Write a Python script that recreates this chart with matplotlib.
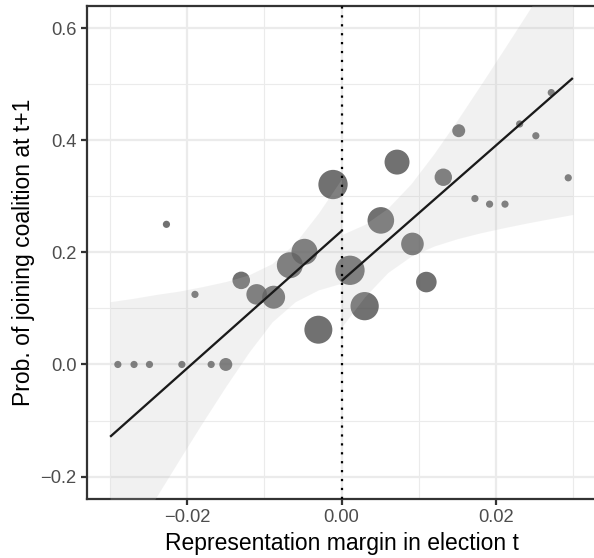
import numpy as np
import matplotlib
matplotlib.use("Agg")
import matplotlib.pyplot as plt
from matplotlib.ticker import FixedLocator, FuncFormatter

# ---- data ----
bin_x = [-0.0290, -0.0269, -0.0249, -0.0227, -0.0207, -0.0190, -0.0169, -0.0150,
         -0.0130, -0.0110, -0.0088, -0.0067, -0.0048, -0.0030, -0.0011,
         0.0011, 0.0030, 0.0051, 0.0072, 0.0092, 0.0110, 0.0132, 0.0152,
         0.0173, 0.0192, 0.0212, 0.0231, 0.0252, 0.0272, 0.0294]
bin_y = [0.0, 0.0, 0.0, 0.25, 0.0, 0.125, 0.0, 0.0,
         0.15, 0.125, 0.12, 0.177, 0.201, 0.062, 0.321,
         0.168, 0.104, 0.257, 0.361, 0.215, 0.147, 0.334, 0.417,
         0.296, 0.286, 0.286, 0.429, 0.408, 0.485, 0.333]
n_obs = [13, 13, 13, 13, 13, 13, 13, 42,
         77, 106, 132, 169, 169, 196, 215,
         215, 200, 177, 156, 128, 106, 76, 42,
         13, 13, 13, 13, 13, 13, 13]

# fitted lines (left / right of cutoff)
fit_left_x = [-0.030, 0.000]
fit_left_y = [-0.129, 0.238]
fit_right_x = [0.000, 0.030]
fit_right_y = [0.149, 0.511]

# confidence bands
band_left_x = [-0.030, -0.027, -0.024, -0.021, -0.018, -0.015, -0.012, -0.009, -0.006, -0.003, 0.000]
band_left_lo = [-0.370, -0.303, -0.236, -0.169, -0.103, -0.039, 0.022, 0.076, 0.112, 0.133, 0.145]
band_left_hi = [0.112, 0.118, 0.125, 0.131, 0.139, 0.148, 0.160, 0.180, 0.217, 0.270, 0.331]
band_right_x = [0.000, 0.003, 0.006, 0.009, 0.012, 0.015, 0.018, 0.021, 0.024, 0.027, 0.030]
band_right_lo = [0.0665, 0.1206, 0.1640, 0.1930, 0.2113, 0.2243, 0.2348, 0.2438, 0.2522, 0.2600, 0.2676]
band_right_hi = [0.2315, 0.2498, 0.2788, 0.3222, 0.3763, 0.4357, 0.4978, 0.5612, 0.6252, 0.6898, 0.7546]

x_major = [-0.02, 0.00, 0.02]
x_minor = [-0.03, -0.01, 0.01, 0.03]
y_major = [-0.2, 0.0, 0.2, 0.4, 0.6]
y_minor = [-0.1, 0.1, 0.3, 0.5]

x_label = "Representation margin in election t"
y_label = "Prob. of joining coalition at t+1"

# ---- plot ----
plt.rcParams['font.family'] = ['Liberation Sans', 'DejaVu Sans']
W, H = 594, 558
fig = plt.figure(figsize=(W / 150, H / 150), dpi=150)
ax = fig.add_axes([87 / W, (H - 499) / H, (596 - 87) / W, (499 - 5.7) / H])

ax.set_xlim(-0.033, 0.033)
ax.set_ylim(-0.24, 0.64)

ax.scatter(bin_x, bin_y, s=np.array(n_obs) * 0.92, color='#4d4d4d', alpha=0.8,
           edgecolors='none', zorder=2)

ax.fill_between(band_left_x, band_left_lo, band_left_hi, color='#bdbdbd', alpha=0.2,
                linewidth=0, zorder=3)
ax.fill_between(band_right_x, band_right_lo, band_right_hi, color='#bdbdbd', alpha=0.2,
                linewidth=0, zorder=3)

ax.plot(fit_left_x, fit_left_y, color='#1a1a1a', lw=1.1, zorder=4, solid_capstyle='butt')
ax.plot(fit_right_x, fit_right_y, color='#1a1a1a', lw=1.1, zorder=4, solid_capstyle='butt')

ax.axvline(0, color='black', lw=1.07, linestyle=(0, (1, 3)), zorder=5)


def fmt(dec):
    return FuncFormatter(lambda v, p: (f"{v:.{dec}f}").replace('-', '\u2212')
                         if abs(v) > 1e-12 else f"{0:.{dec}f}")


ax.xaxis.set_major_locator(FixedLocator(x_major))
ax.xaxis.set_minor_locator(FixedLocator(x_minor))
ax.yaxis.set_major_locator(FixedLocator(y_major))
ax.yaxis.set_minor_locator(FixedLocator(y_minor))
ax.xaxis.set_major_formatter(fmt(2))
ax.yaxis.set_major_formatter(fmt(1))

ax.grid(which='major', color='#ebebeb', lw=1.07, zorder=0)
ax.grid(which='minor', color='#ebebeb', lw=0.53, zorder=0)
ax.set_axisbelow(True)

for sp in ax.spines.values():
    sp.set_color('#333333')
    sp.set_linewidth(1.07)

ax.tick_params(which='major', direction='out', length=2.75, width=1.07, color='#333333',
               labelsize=8.8, labelcolor='#4d4d4d', pad=2.2)
ax.tick_params(which='minor', length=0)
ax.tick_params(top=False, right=False)

ax.set_xlabel(x_label, fontsize=11, color='black', labelpad=2.75)
ax.set_ylabel(y_label, fontsize=11, color='black', labelpad=2.75)

fig.savefig('out.png', dpi=150)
